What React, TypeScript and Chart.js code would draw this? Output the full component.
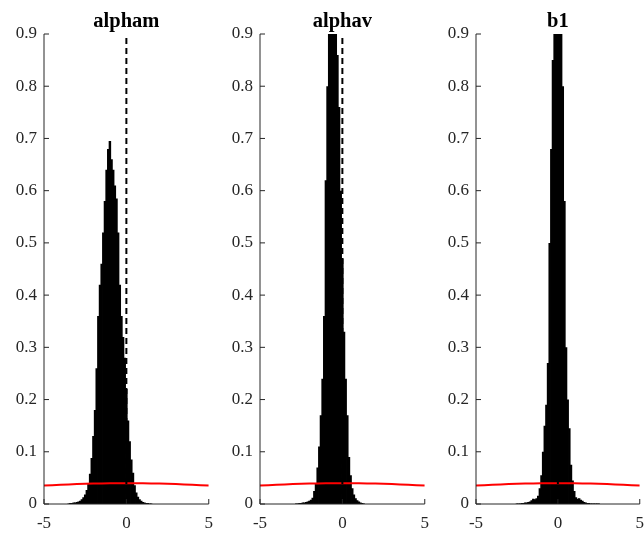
import React, { useEffect, useRef } from 'react';
import { Chart, registerables } from 'chart.js';

Chart.register(...registerables);

const titles = ['alpham', 'alphav', 'b1'];
const xTickValues = [-5, 0, 5];
const xTickLabels = ['-5', '0', '5'];
const yTickValues = [0, 0.1, 0.2, 0.3, 0.4, 0.5, 0.6, 0.7, 0.8, 0.9];
const yTickLabels = ['0', '0.1', '0.2', '0.3', '0.4', '0.5', '0.6', '0.7', '0.8', '0.9'];

// histogram bin centres and densities
const alphamX = [-3.5, -3.4, -3.3, -3.2, -3.1, -3.0, -2.9, -2.8, -2.7, -2.6, -2.5, -2.4, -2.3, -2.2, -2.1, -2.0, -1.9, -1.8, -1.7, -1.6, -1.5, -1.4, -1.3, -1.2, -1.1, -1.0, -0.9, -0.8, -0.7, -0.6, -0.5, -0.4, -0.3, -0.2, -0.1, 0.0, 0.1, 0.2, 0.3, 0.4, 0.5, 0.6, 0.7, 0.8, 0.9, 1.0, 1.1, 1.2, 1.3, 1.4, 1.5];
const alphamY = [0.001, 0.002, 0.002, 0.003, 0.003, 0.004, 0.005, 0.006, 0.009, 0.013, 0.018, 0.027, 0.040, 0.058, 0.088, 0.13, 0.18, 0.26, 0.36, 0.42, 0.46, 0.52, 0.58, 0.64, 0.68, 0.695, 0.66, 0.64, 0.61, 0.585, 0.52, 0.42, 0.36, 0.32, 0.28, 0.22, 0.16, 0.12, 0.085, 0.06, 0.036, 0.022, 0.014, 0.009, 0.006, 0.004, 0.003, 0.002, 0.002, 0.001, 0.001];

const alphavX = [-2.8, -2.7, -2.6, -2.5, -2.4, -2.3, -2.2, -2.1, -2.0, -1.9, -1.8, -1.7, -1.6, -1.5, -1.4, -1.3, -1.2, -1.1, -1.0, -0.9, -0.8, -0.7, -0.6, -0.5, -0.4, -0.3, -0.2, -0.1, 0.0, 0.1, 0.2, 0.3, 0.4, 0.5, 0.6, 0.7, 0.8, 0.9, 1.0, 1.1, 1.2, 1.3];
const alphavY = [0.001, 0.001, 0.002, 0.002, 0.003, 0.003, 0.004, 0.005, 0.006, 0.008, 0.012, 0.025, 0.04, 0.07, 0.11, 0.17, 0.24, 0.36, 0.62, 0.8, 0.95, 1.05, 1.08, 1.02, 0.94, 0.86, 0.76, 0.6, 0.47, 0.33, 0.24, 0.17, 0.09, 0.055, 0.03, 0.018, 0.011, 0.007, 0.005, 0.003, 0.002, 0.001];

const b1X = [-2.5, -2.4, -2.3, -2.2, -2.1, -2.0, -1.9, -1.8, -1.7, -1.6, -1.5, -1.4, -1.3, -1.2, -1.1, -1.0, -0.9, -0.8, -0.7, -0.6, -0.5, -0.4, -0.3, -0.2, -0.1, 0.0, 0.1, 0.2, 0.3, 0.4, 0.5, 0.6, 0.7, 0.8, 0.9, 1.0, 1.1, 1.2, 1.3, 1.4, 1.5, 1.6, 1.7, 1.8, 1.9, 2.0, 2.1, 2.2, 2.3, 2.4, 2.5];
const b1Y = [0.001, 0.001, 0.001, 0.002, 0.002, 0.003, 0.003, 0.004, 0.005, 0.007, 0.010, 0.009, 0.011, 0.016, 0.030, 0.055, 0.10, 0.15, 0.19, 0.27, 0.50, 0.68, 0.85, 1.05, 1.18, 1.22, 1.18, 1.02, 0.80, 0.58, 0.30, 0.20, 0.145, 0.075, 0.045, 0.025, 0.013, 0.010, 0.011, 0.008, 0.006, 0.004, 0.003, 0.002, 0.002, 0.001, 0.001, 0.001, 0.001, 0.001, 0.001];

// prior density (red curve)
const priorX = [-5, -4, -3, -2, -1, 0, 1, 2, 3, 4, 5];
const priorY = [0.0352, 0.0368, 0.0381, 0.0391, 0.0397, 0.0399, 0.0397, 0.0391, 0.0381, 0.0368, 0.0352];

// reference (dashed) line
const refLineX = [0, 0];
const refLineY = [0, 0.9];

const histX = [alphamX, alphavX, b1X];
const histY = [alphamY, alphavY, b1Y];

const FONT = '"Liberation Serif", "Times New Roman", serif';
const TEXT = '#262626';

const axesPlugin = {
  id: 'matlabAxes',
  afterDatasetsDraw(chart: any) {
    const { ctx, chartArea: a, scales } = chart;
    const x = scales.x;
    const y = scales.y;
    ctx.save();
    ctx.strokeStyle = TEXT;
    ctx.lineWidth = 1;
    ctx.beginPath();
    ctx.moveTo(a.left, a.top);
    ctx.lineTo(a.left, a.bottom);
    ctx.lineTo(a.right, a.bottom);
    yTickValues.forEach((v) => {
      const py = y.getPixelForValue(v);
      ctx.moveTo(a.left, py);
      ctx.lineTo(a.left + 5, py);
    });
    xTickValues.forEach((v) => {
      const px = x.getPixelForValue(v);
      ctx.moveTo(px, a.bottom);
      ctx.lineTo(px, a.bottom - 5);
    });
    ctx.stroke();
    ctx.restore();
  },
};

function Panel({ index, left, width }: { index: number; left: number; width: number }) {
  const ref = useRef<HTMLCanvasElement | null>(null);
  useEffect(() => {
    if (!ref.current) return;
    const chart = new Chart(ref.current, {
      type: 'bar',
      data: {
        datasets: [
          {
            type: 'line',
            data: refLineX.map((v, i) => ({ x: v, y: refLineY[i] })),
            borderColor: '#000',
            borderWidth: 2,
            borderDash: [6, 4],
            pointRadius: 0,
            order: 1,
          } as any,
          {
            type: 'line',
            data: priorX.map((v, i) => ({ x: v, y: priorY[i] })),
            borderColor: '#ff0000',
            borderWidth: 2,
            pointRadius: 0,
            tension: 0.4,
            order: 2,
          } as any,
          {
            type: 'bar',
            data: histX[index].map((v, i) => ({ x: v, y: histY[index][i] })),
            backgroundColor: '#000',
            borderWidth: 0,
            barPercentage: 1.5,
            categoryPercentage: 1,
            order: 3,
          } as any,
        ],
      },
      options: {
        animation: false,
        responsive: false,
        maintainAspectRatio: false,
        layout: { padding: 0 },
        plugins: {
          legend: { display: false },
          tooltip: { enabled: false },
          title: {
            display: true,
            text: titles[index],
            fullSize: false,
            color: '#000',
            font: { family: FONT, size: 20.5, weight: 'bold' },
            padding: { top: 9, bottom: 0.4 },
          },
        },
        scales: {
          x: {
            type: 'linear',
            min: -5,
            max: 5,
            offset: false,
            grid: { display: false, drawTicks: false },
            border: { display: false },
            afterBuildTicks: (s: any) => {
              s.ticks = xTickValues.map((v) => ({ value: v }));
            },
            afterFit: (s: any) => {
              s.height = 31;
            },
            ticks: {
              autoSkip: false,
              maxRotation: 0,
              padding: 9,
              color: TEXT,
              font: { family: FONT, size: 17 },
              callback: (_v: any, i: number) => xTickLabels[i],
            },
          },
          y: {
            type: 'linear',
            min: 0,
            max: 0.9,
            grid: { display: false, drawTicks: false },
            border: { display: false },
            afterBuildTicks: (s: any) => {
              s.ticks = yTickValues.map((v) => ({ value: v }));
            },
            afterFit: (s: any) => {
              s.width = 44;
            },
            ticks: {
              autoSkip: false,
              padding: 7,
              color: TEXT,
              font: { family: FONT, size: 17 },
              callback: (_v: any, i: number) => yTickLabels[i],
            },
          },
        },
      } as any,
      plugins: [axesPlugin],
    });
    return () => chart.destroy();
  }, [index]);
  return (
    <canvas
      ref={ref}
      width={width}
      height={535}
      style={{ position: 'absolute', left, top: 0, width, height: 535 }}
    />
  );
}

export default function App() {
  return (
    <div
      style={{
        position: 'absolute',
        left: 0,
        top: 0,
        width: 644,
        height: 535,
        overflow: 'hidden',
        background: '#fff',
      }}
    >
      <Panel index={0} left={0} width={222} />
      <Panel index={1} left={216} width={222} />
      <Panel index={2} left={432} width={221} />
    </div>
  );
}
